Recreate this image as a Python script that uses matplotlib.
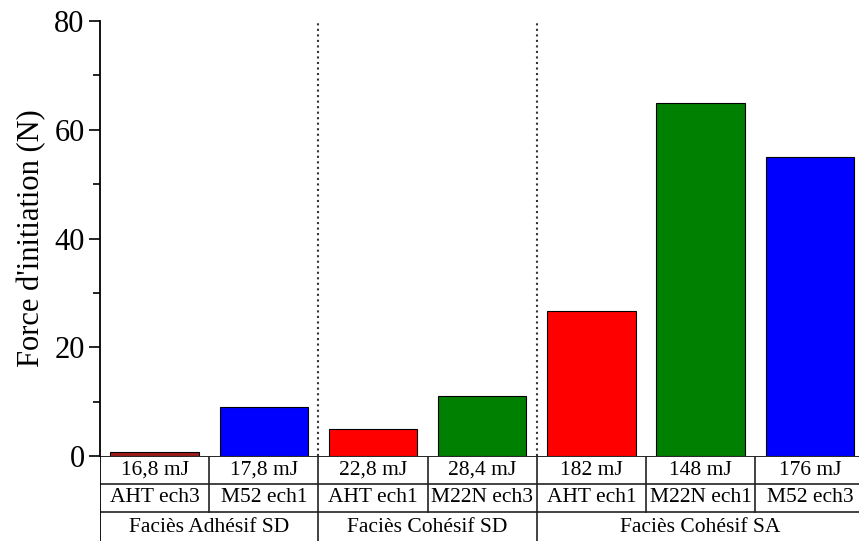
import matplotlib
matplotlib.use('Agg')
from matplotlib import pyplot as plt

# Données
energies = ['16,8 mJ', '17,8 mJ', '22,8 mJ', '28,4 mJ', '182 mJ', '148 mJ', '176 mJ']
echantillons = ['AHT ech3', 'M52 ech1', 'AHT ech1', 'M22N ech3', 'AHT ech1', 'M22N ech1', 'M52 ech3']
faciès = ['Faciès Adhésif SD', 'Faciès Cohésif SD', 'Faciès Cohésif SA']
taille_groupes = [2, 2, 3]
forces = [0.7, 9.0, 5.0, 11.0, 26.6, 65.0, 55.0]
couleurs = ['#9b1c1c', '#0000ff', '#ff0000', '#008000', '#ff0000', '#008000', '#0000ff']

plt.rcParams['font.family'] = ['Liberation Serif', 'DejaVu Serif']

fig = plt.figure(figsize=(8.59, 5.41), dpi=100)
ax = fig.add_axes([0.1164, 0.157, 0.8836, 0.804])
tab = fig.add_axes([0.1164, 0.0, 0.8836, 0.157])

x = list(range(len(forces)))
ax.bar(x, forces, width=0.81, color=couleurs, edgecolor='black', linewidth=0.8)

xmin, xmax = -0.5, 6.45
ax.set_xlim(xmin, xmax)
ax.set_ylim(0, 80)
ax.set_yticks([0, 20, 40, 60, 80])
ax.set_yticks([10, 30, 50, 70], minor=True)
ax.tick_params(axis='y', labelsize=22, length=8, width=1.2, direction='out', pad=3)
ax.tick_params(axis='y', which='minor', length=5, width=1.2)
ax.set_xticks([])
ax.set_ylabel("Force d'initiation (N)", fontsize=22, labelpad=6)
for s in ['top', 'right', 'bottom']:
    ax.spines[s].set_visible(False)
ax.spines['left'].set_linewidth(1.3)

# Séparateurs entre faciès
pos = -0.5
for n in taille_groupes[:-1]:
    pos += n
    ax.axvline(pos, ymin=0, ymax=0.995, color='#333333', linestyle=':', linewidth=1.5)

# Tableau sous le graphique
tab.set_xlim(xmin, xmax)
tab.set_ylim(0, 3.1)
tab.axis('off')
lw = 1.2
tab.axhline(3.1, color='black', linewidth=lw)
tab.axhline(2.08, color='#222222', linewidth=lw)
tab.axhline(1.06, color='#222222', linewidth=lw)
tab.plot([-0.5, -0.5], [0, 3.1], color='black', linewidth=1.3)
for i in range(1, len(forces)):
    tab.plot([i - 0.5, i - 0.5], [1.06, 3.1], color='#222222', linewidth=lw)
pos = -0.5
for n in taille_groupes[:-1]:
    pos += n
    tab.plot([pos, pos], [0, 1.06], color='#222222', linewidth=lw)

for i in x:
    tab.text(i, 2.59, energies[i], ha='center', va='center', fontsize=15.5)
    tab.text(i, 1.57, echantillons[i], ha='center', va='center', fontsize=15.5)
debut = -0.5
for nom, n in zip(faciès, taille_groupes):
    tab.text(debut + n / 2, 0.5, nom, ha='center', va='center', fontsize=15.5)
    debut += n

fig.savefig('out.png', dpi=100)
